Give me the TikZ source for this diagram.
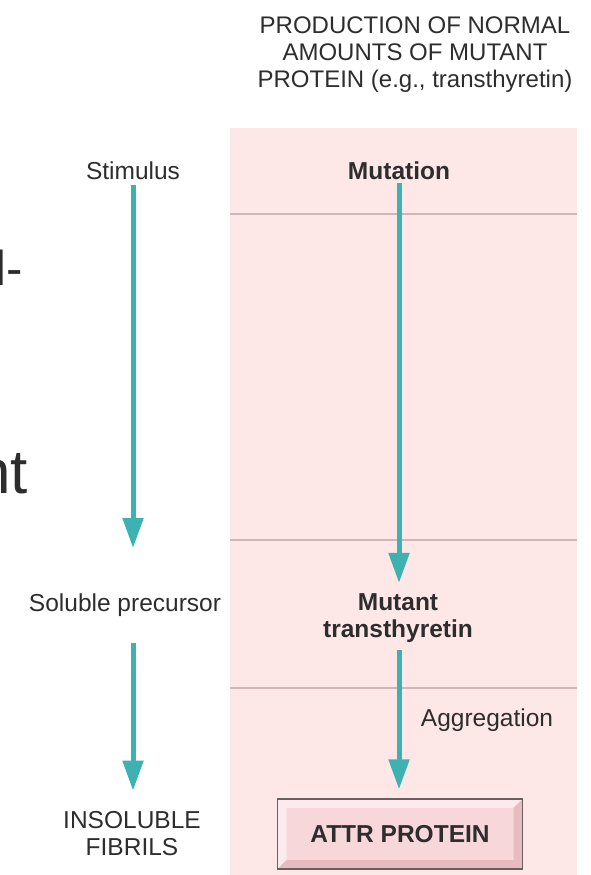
\documentclass[tikz,border=0pt]{standalone}
\usepackage{fontspec}
\setmainfont{Liberation Sans}
\usetikzlibrary{arrows.meta}
\definecolor{panelpink}{RGB}{253,231,231}
\definecolor{rulepink}{RGB}{208,182,182}
\definecolor{flowteal}{RGB}{62,178,178}
\definecolor{txtgray}{RGB}{45,45,45}
\definecolor{boxface}{RGB}{247,215,218}
\definecolor{boxlight}{RGB}{252,234,238}
\definecolor{boxdark}{RGB}{230,188,192}
\definecolor{boxedge}{RGB}{105,95,95}

\begin{document}
\begin{tikzpicture}[x=1pt,y=-1pt,
  txt/.style={inner sep=0pt,text=txtgray,align=center,anchor=base,font=\fontsize{24.5}{27}\selectfont},
  bold/.style={txt,font=\fontsize{24.5}{27}\selectfont\bfseries},
  frag/.style={inner sep=0pt,text=txtgray,anchor=base east},
  flow/.style={line width=5pt,draw=flowteal,-{Triangle[width=20pt,length=30pt]}},
  sep/.style={draw=rulepink,line width=1.6pt},
  attrbox/.style={draw=boxedge,line width=1.4pt,fill=boxface,minimum width=245pt,minimum height=70pt,
    text=txtgray,font=\fontsize{24.5}{27}\selectfont\bfseries,
    path picture={
      \fill[boxlight] (path picture bounding box.north west) -- (path picture bounding box.north east)
        -- ([shift={(-9,9)}]path picture bounding box.north east) -- ([shift={(9,9)}]path picture bounding box.north west)
        -- ([shift={(9,-9)}]path picture bounding box.south west) -- (path picture bounding box.south west) -- cycle;
      \fill[boxdark] (path picture bounding box.south east) -- (path picture bounding box.north east)
        -- ([shift={(-9,9)}]path picture bounding box.north east) -- ([shift={(-9,-9)}]path picture bounding box.south east)
        -- ([shift={(9,-9)}]path picture bounding box.south west) -- (path picture bounding box.south west) -- cycle;
    }}]
\useasboundingbox (0,0) rectangle (591,875);

\fill[panelpink] (230,128) rectangle (577,875);
\draw[sep] (230,214) -- (577,214);
\draw[sep] (230,540) -- (577,540);
\draw[sep] (230,688) -- (577,688);

\node[frag,font=\fontsize{49}{50}\selectfont] (cut1) at (23,285) {l-};
\node[frag,font=\fontsize{62}{64}\selectfont] (cut2) at (28,493) {nt};

\node[txt,font=\fontsize{24}{27}\selectfont] (head) at (415,87) {PRODUCTION OF NORMAL\\AMOUNTS OF MUTANT\\PROTEIN (e.g., transthyretin)};

\node[txt] (stim) at (133,179) {Stimulus};
\node[txt] (solp) at (125,611) {Soluble precursor};
\node[txt] (fibr) at (132,855) {INSOLUBLE\\FIBRILS};

\node[bold] (mut) at (399,179) {Mutation};
\node[bold] (mttr) at (398,637) {Mutant\\transthyretin};
\node[txt] (aggr) at (487,726) {Aggregation};
\node[attrbox] (attr) at (400,834) {ATTR PROTEIN};

\draw[flow,shorten <=6pt,shorten >=45pt] (stim.south) -- (stim.south |- solp.north);
\draw[flow,shorten <=27pt,shorten >=20pt] (stim.south |- solp.south) -- (stim.south |- fibr.north);
\draw[flow,shorten <=4pt,shorten >=10pt] (mut.south) -- (mut.south |- mttr.north);
\draw[flow,shorten <=8pt,shorten >=9pt] (mut.south |- mttr.south) -- (mut.south |- attr.north);

\end{tikzpicture}
\end{document}
